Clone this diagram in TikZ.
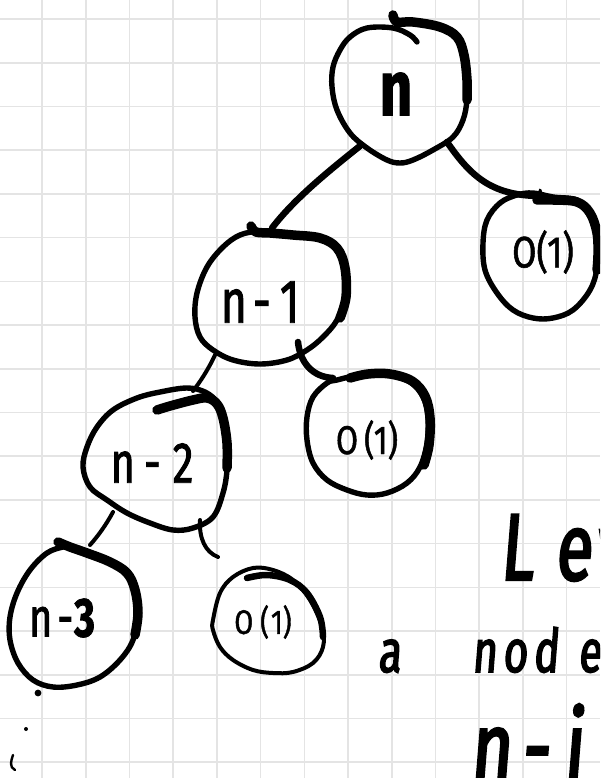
\documentclass[tikz,border=0pt]{standalone}
\usepackage{fontspec}
\setmainfont{Fira Sans}
\newfontfamily\handN[FakeStretch=0.72, FakeBold=1.5]{Fira Sans}
\newfontfamily\handO[FakeStretch=0.8, FakeBold=1.2]{Fira Sans}
\newfontfamily\brush[FakeStretch=0.7, FakeBold=2.5, FakeSlant=0.08]{Fira Sans}
\usetikzlibrary{calc}
\definecolor{gridgray}{RGB}{228,228,228}
\begin{document}
\begin{tikzpicture}[x=1pt,y=-1pt,
  gridline/.style={draw=gridgray, line width=1.6},
  ring/.style={line width=5.4, line cap=round, line join=round},
  thinring/.style={line width=4, line cap=round, line join=round},
  heavy/.style={line width=9.5, line cap=round, line join=round},
  lightheavy/.style={line width=6.5, line cap=round, line join=round},
  edge/.style={line width=6.5, line cap=round},
  twig/.style={line width=4, line cap=round},
  vertex/.style={inner sep=0pt, outer sep=0pt},
  words/.style={inner sep=0pt, outer sep=0pt, anchor=base west}]

\useasboundingbox (0,0) rectangle (600,778);
\fill[white] (0,0) rectangle (600,778);
\clip (0,0) rectangle (600,778);

% squared paper
\foreach \k in {0,...,12} \draw[gridline] ({42+43.72*\k},0) -- ({42+43.72*\k},778);
\foreach \k in {0,...,17} \draw[gridline] (0,{19+43.72*\k}) -- (600,{19+43.72*\k});

% tree labels
\node[vertex] (root) at (396,94) {\handN\bfseries\fontsize{78}{78}\selectfont n};
\node[vertex] (n1) at (260,302) {\handN\fontsize{62}{62}\selectfont n\kern6pt-\kern9pt1};
\node[vertex] (o1) at (543,252) {\handO\fontsize{44}{44}\selectfont O(1)};
\node[vertex] (n2) at (152,463) {\handN\fontsize{58}{58}\selectfont n\kern9pt-\kern12pt2};
\node[vertex] (o2) at (367,440) {\handO\fontsize{40}{40}\selectfont O\kern6pt(1)};
\node[vertex] (n3) at (62,618) {\handN\fontsize{55}{55}\selectfont n\kern5pt-\kern1pt{\bfseries 3}};
\node[vertex] (o3) at (263,622) {\handO\fontsize{34}{34}\selectfont O\kern7pt(\kern2pt1)};

% side note
\node[words] (lev) at (500,580) {\brush\fontsize{95}{95}\selectfont L\kern22pt e\kern4pt v};
\node[words] (wa) at (378,672) {\brush\fontsize{60}{60}\selectfont a};
\node[words] (wnode) at (472,672) {\brush\fontsize{60}{60}\selectfont n\kern6pt o\kern6pt d\kern20pt e};
\node[words] (wni) at (470,782) {\brush\fontsize{100}{100}\selectfont n\kern10pt-\kern14pt i};

% root outline
\begin{scope}[shift={(root)}]
  \draw[heavy] plot[smooth, tension=0.6] coordinates {(-3,-79) (1,-72) (17,-72) (44,-67) (61,-57) (68,-39) (71,-14) (71,6)};
  \draw[ring] plot[smooth, tension=0.6] coordinates {(71,-14) (71,6) (67,26) (57,43) (37,56) (17,66) (4,69) (-9,66) (-29,54) (-46,39) (-59,16) (-64,-7) (-63,-27) (-56,-44) (-46,-57) (-29,-66) (-3,-66) (14,-59) (21,-52)};
\end{scope}

% O(1) outline, top right
\begin{scope}[shift={(o1)}]
  \draw[ring] plot[smooth cycle, tension=0.6] coordinates {(10,-55) (34,-52) (47,-39) (54,-19) (54,15) (47,38) (30,58) (10,66) (-10,66) (-30,58) (-46,41) (-58,18) (-60,-9) (-56,-32) (-43,-49) (-26,-57) (-10,-59)};
  \draw[heavy] plot[smooth, tension=0.6] coordinates {(-6,-52) (10,-52) (34,-50) (47,-39) (54,-19) (55,3) (54,18)};
  \draw[line width=3, line cap=round] (-3,-62) -- (-1,-55);
\end{scope}

% n-1 outline
\begin{scope}[shift={(n1)}]
  \draw[ring] plot[smooth cycle, tension=0.6] coordinates {(0,-71) (17,-70) (33,-68) (60,-65) (77,-55) (85,-35) (85,-5) (77,18) (63,35) (47,48) (27,58) (0,62) (-27,58) (-47,48) (-60,35) (-65,15) (-63,-9) (-53,-35) (-37,-55) (-20,-67)};
  \draw[heavy] plot[smooth, tension=0.6] coordinates {(-9,-76) (-4,-70) (10,-69) (33,-67) (60,-64) (77,-54) (85,-34) (86,-5) (80,16)};
\end{scope}

% O(1) outline, middle
\begin{scope}[shift={(o2)}]
  \draw[ring] plot[smooth cycle, tension=0.6] coordinates {(-30,-60) (-7,-65) (20,-65) (43,-58) (56,-43) (61,-23) (60,3) (53,27) (40,43) (20,53) (0,55) (-20,50) (-40,40) (-54,23) (-60,0) (-60,-23) (-54,-43) (-40,-57)};
  \draw[heavy] plot[smooth, tension=0.6] coordinates {(-17,-62) (1,-66) (23,-66) (45,-59) (58,-44) (63,-22) (62,5) (57,25)};
\end{scope}

% n-2 outline
\begin{scope}[shift={(n2)}]
  \draw[ring] plot[smooth cycle, tension=0.6] coordinates {(35,-75) (53,-71) (65,-61) (71,-46) (75,-20) (75,7) (71,30) (61,54) (41,65) (21,67) (-2,60) (-25,50) (-45,37) (-62,24) (-69,4) (-65,-16) (-55,-36) (-39,-53) (-15,-65) (8,-71)};
  \draw[heavy] plot[smooth, tension=0.6] coordinates {(5,-53) (18,-57) (41,-63) (55,-65) (65,-59) (71,-45) (75,-20) (75,5)};
\end{scope}

% n-3 outline and the dots under it
\begin{scope}[shift={(n3)}]
  \draw[ring] plot[smooth cycle, tension=0.6] coordinates {(8,-71) (25,-65) (48,-56) (65,-45) (73,-28) (76,-5) (71,22) (58,42) (38,59) (15,67) (-9,69) (-29,62) (-44,45) (-52,22) (-52,-1) (-45,-25) (-32,-48) (-15,-65) (1,-71)};
  \draw[heavy] plot[smooth, tension=0.6] coordinates {(-4,-76) (8,-71) (25,-65) (48,-56) (65,-45) (73,-28) (76,-5) (73,17)};
  \fill (-24,75) circle (3.4pt);
  \fill (-36,111) circle (2pt);
  \draw[line width=2.4, line cap=round] (-49,137) .. controls (-51,143) and (-53,149) .. (-47,152);
\end{scope}

% O(1) outline, bottom
\begin{scope}[shift={(o3)}]
  \draw[thinring] plot[smooth cycle, tension=0.6] coordinates {(-50,-2) (-43,-29) (-30,-45) (-10,-54) (10,-52) (30,-42) (47,-22) (59,5) (60,25) (50,41) (30,50) (10,51) (-10,48) (-30,38) (-43,25) (-50,8)};
  \draw[lightheavy] plot[smooth, tension=0.6] coordinates {(-16,-44) (4,-47) (27,-42) (44,-29) (57,-5) (60,15)};
\end{scope}

% connectors
\draw[edge] ($(root)+(-36,52)$) .. controls ($(root)+(-66,76)$) and ($(root)+(-101,104)$) .. ($(n1)+(12,-74)$);
\draw[edge] ($(root)+(51,48)$) .. controls ($(root)+(74,81)$) and ($(root)+(94,101)$) .. ($(o1)+(-5,-56)$);
\draw[twig] ($(n1)+(-45,53)$) .. controls ($(n1)+(-52,68)$) and ($(n1)+(-60,80)$) .. ($(n2)+(41,-72)$);
\draw[edge] ($(n1)+(38,40)$) .. controls ($(n1)+(40,60)$) and ($(n1)+(52,75)$) .. ($(o2)+(-34,-62)$);
\draw[twig] ($(n2)+(-39,49)$) .. controls ($(n2)+(-46,62)$) and ($(n2)+(-54,73)$) .. ($(n3)+(28,-73)$);
\draw[twig] ($(n2)+(48,57)$) .. controls ($(n2)+(47,75)$) and ($(n2)+(53,89)$) .. ($(o3)+(-45,-65)$);
\end{tikzpicture}
\end{document}
